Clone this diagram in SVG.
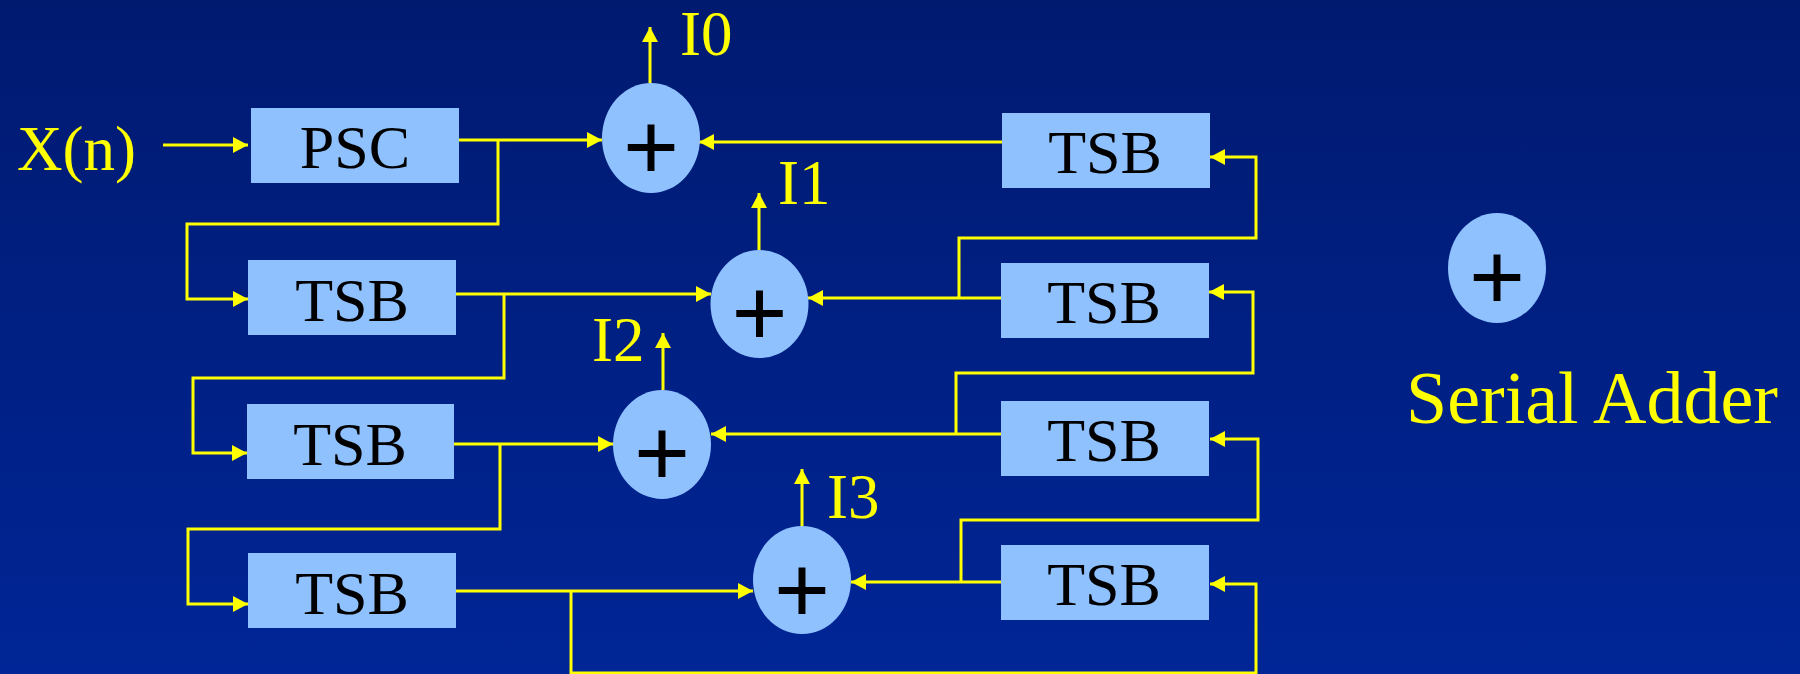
<svg xmlns="http://www.w3.org/2000/svg" width="1800" height="674" viewBox="0 0 1800 674">
  <defs>
    <linearGradient id="bg" x1="0" y1="0" x2="0" y2="1">
      <stop offset="0" stop-color="#001a70"/>
      <stop offset="1" stop-color="#002596"/>
    </linearGradient>
    <marker id="arrow" markerUnits="userSpaceOnUse" markerWidth="16" markerHeight="17" refX="15" refY="8" orient="auto">
      <path d="M0,0 L15,8 L0,16 z" fill="#ffff00"/>
    </marker>
  </defs>
  <style>
    .box { fill: #8fc1ff; }
    .adder { fill: #8fc1ff; }
    .blk { font-family: "Liberation Serif", "Times New Roman", serif; font-size: 62px; fill: #000; text-anchor: middle; }
    .plus { font-family: "Liberation Serif", "Times New Roman", serif; font-size: 100px; font-weight: bold; fill: #000; text-anchor: middle; }
    .lbl { font-family: "Liberation Serif", "Times New Roman", serif; font-size: 63px; fill: #ffff00; }
    .wire { fill: none; stroke: #ffff00; stroke-width: 3; }
    .arr { marker-end: url(#arrow); }
  </style>

  <rect x="0" y="0" width="1800" height="674" fill="url(#bg)"/>

  <!-- signal wiring -->
  <g id="connectors" class="wire">
    <!-- input into the parallel-to-serial converter -->
    <path class="arr" d="M163,145 H248"/>
    <!-- left column feeds the adders and cascades downwards -->
    <path class="arr" d="M459,140 H602"/>
    <path class="arr" d="M498,140 V224 H187 V299 H248"/>
    <path class="arr" d="M456,294 H711"/>
    <path class="arr" d="M504,294 V378 H193 V453 H247"/>
    <path class="arr" d="M454,444 H613"/>
    <path class="arr" d="M500,444 V529 H188 V604 H248"/>
    <path class="arr" d="M456,591 H753"/>
    <path class="arr" d="M571,591 V673 H1256 V584 H1210"/>
    <!-- adder outputs -->
    <path class="arr" d="M650,83 V27"/>
    <path class="arr" d="M759,250 V193"/>
    <path class="arr" d="M663,390 V333"/>
    <path class="arr" d="M802,527 V469"/>
    <!-- right column feeds the adders and cascades upwards -->
    <path class="arr" d="M1002,142 H699"/>
    <path class="arr" d="M1001,298 H808"/>
    <path class="arr" d="M959,298 V238 H1256 V157 H1210"/>
    <path class="arr" d="M1001,434 H711"/>
    <path class="arr" d="M956,434 V373 H1253 V292 H1209"/>
    <path class="arr" d="M1001,582 H851"/>
    <path class="arr" d="M961,582 V520 H1258 V439 H1210"/>
  </g>

  <g id="input-label">
    <text class="lbl" x="17" y="170">X(n)</text>
  </g>

  <g id="psc">
    <rect class="box" x="251" y="108" width="208" height="75"/>
    <text class="blk" x="355" y="168">PSC</text>
  </g>
  <g id="tsb-l1">
    <rect class="box" x="248" y="260" width="208" height="75"/>
    <text class="blk" x="352" y="321">TSB</text>
  </g>
  <g id="tsb-l2">
    <rect class="box" x="247" y="404" width="207" height="75"/>
    <text class="blk" x="350" y="465">TSB</text>
  </g>
  <g id="tsb-l3">
    <rect class="box" x="248" y="553" width="208" height="75"/>
    <text class="blk" x="352" y="614">TSB</text>
  </g>

  <g id="tsb-r0">
    <rect class="box" x="1002" y="113" width="208" height="75"/>
    <text class="blk" x="1105" y="173">TSB</text>
  </g>
  <g id="tsb-r1">
    <rect class="box" x="1001" y="263" width="208" height="75"/>
    <text class="blk" x="1104" y="323">TSB</text>
  </g>
  <g id="tsb-r2">
    <rect class="box" x="1001" y="401" width="208" height="75"/>
    <text class="blk" x="1104" y="461">TSB</text>
  </g>
  <g id="tsb-r3">
    <rect class="box" x="1001" y="545" width="208" height="75"/>
    <text class="blk" x="1104" y="605">TSB</text>
  </g>

  <g id="adder0">
    <ellipse class="adder" cx="651" cy="138" rx="49" ry="55"/>
    <text class="plus" x="651" y="181">+</text>
  </g>
  <g id="adder1">
    <ellipse class="adder" cx="759.5" cy="304" rx="49" ry="54"/>
    <text class="plus" x="759.5" y="347">+</text>
  </g>
  <g id="adder2">
    <ellipse class="adder" cx="662" cy="444.5" rx="49" ry="54.5"/>
    <text class="plus" x="662" y="487">+</text>
  </g>
  <g id="adder3">
    <ellipse class="adder" cx="802" cy="580" rx="49" ry="54"/>
    <text class="plus" x="802" y="624">+</text>
  </g>

  <g id="outputs">
    <text class="lbl" x="680" y="55">I0</text>
    <text class="lbl" x="778" y="204">I1</text>
    <text class="lbl" x="592" y="361">I2</text>
    <text class="lbl" x="827" y="518">I3</text>
  </g>

  <g id="legend">
    <ellipse class="adder" cx="1497" cy="268" rx="49" ry="55"/>
    <text class="plus" x="1497" y="311">+</text>
    <text class="lbl" x="1406" y="423" style="font-size:74px">Serial Adder</text>
  </g>
</svg>
